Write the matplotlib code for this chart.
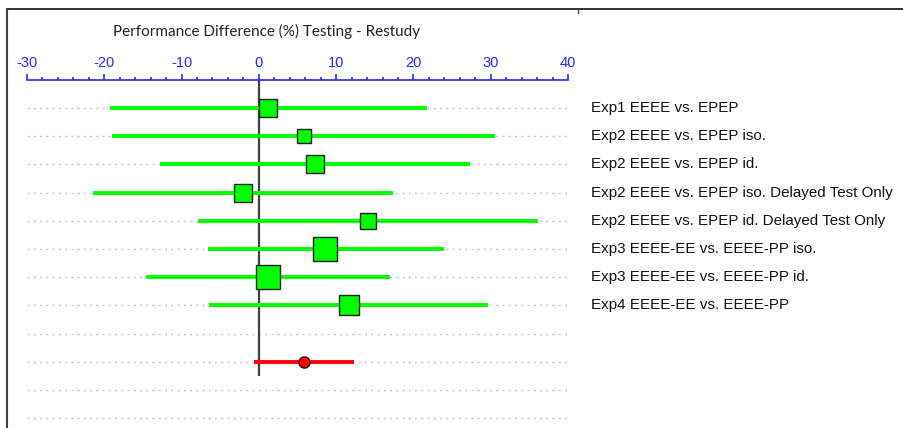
import matplotlib
matplotlib.use("Agg")
import matplotlib.pyplot as plt
from matplotlib.lines import Line2D
from matplotlib.ticker import MultipleLocator

plt.rcParams["axes.unicode_minus"] = False
plt.rcParams["font.family"] = ["Liberation Sans", "DejaVu Sans"]

# ---- data ----
studies = [
    "Exp1 EEEE vs. EPEP",
    "Exp2 EEEE vs. EPEP iso.",
    "Exp2 EEEE vs. EPEP id.",
    "Exp2 EEEE vs. EPEP iso. Delayed Test Only",
    "Exp2 EEEE vs. EPEP id. Delayed Test Only",
    "Exp3 EEEE-EE vs. EEEE-PP iso.",
    "Exp3 EEEE-EE vs. EEEE-PP id.",
    "Exp4 EEEE-EE vs. EEEE-PP",
]
effects = [1.2, 5.8, 7.2, -2.0, 14.1, 8.6, 1.2, 11.6]
ci_low = [-19.3, -19.0, -12.8, -21.5, -7.9, -6.6, -14.6, -6.4]
ci_high = [21.8, 30.6, 27.3, 17.4, 36.1, 23.9, 17.0, 29.7]
weights = [18.7, 14.0, 18.3, 18.3, 15.7, 23.2, 23.3, 20.3]  # relative box sizes (px)

summary_effect = 5.8
summary_low = -0.6
summary_high = 12.3

x_ticks = [-30, -20, -10, 0, 10, 20, 30, 40]
n_rows = 12
summary_row = 9

title = "Performance Difference (%) Testing - Restudy"

# ---- figure ----
W, H, DPI = 904, 428, 100
fig = plt.figure(figsize=(W / DPI, H / DPI), dpi=DPI)

x0_px, x1_px = 27, 568
top_px = 80
ax = fig.add_axes([x0_px / W, 0, (x1_px - x0_px) / W, 1 - top_px / H])
row0_px, row_step = 108, 28.2
ax.set_xlim(x_ticks[0], x_ticks[-1])
ax.set_ylim((H - row0_px) / row_step, (top_px - row0_px) / row_step)

for s in ["left", "right", "bottom"]:
    ax.spines[s].set_visible(False)
blue = "#2a2aff"
ax.spines["top"].set_color(blue)
ax.spines["top"].set_linewidth(1.2)
ax.xaxis.tick_top()
ax.set_xticks(x_ticks)
ax.xaxis.set_minor_locator(MultipleLocator(2))
ax.tick_params(axis="x", which="major", direction="out", length=4.5, width=1.2,
               color=blue, labelcolor=blue, labelsize=10.5, pad=3)
ax.tick_params(axis="x", which="minor", direction="out", length=2.5, width=1.2, color=blue)
ax.set_yticks([])

# dotted row guides
for r in range(n_rows):
    ax.plot([x_ticks[0], x_ticks[-1]], [r, r], color="#c4c4c4", lw=1,
            linestyle=(0, (1.5, 3)), zorder=1)

# zero line
ax.plot([0, 0], [ax.get_ylim()[1], summary_row + 0.5], color="#404040", lw=1.6, zorder=2,
        solid_capstyle="butt")

green = "#00ff00"
for i, (e, lo, hi, w) in enumerate(zip(effects, ci_low, ci_high, weights)):
    ax.plot([lo, hi], [i, i], color=green, lw=2.8, zorder=3, solid_capstyle="butt")
    ax.plot([e], [i], marker="s", markersize=w / 1.389, markerfacecolor=green,
            markeredgecolor="#202020", markeredgewidth=1.0, zorder=4)
    ax.text(42.95, i, studies[i], va="center", ha="left", fontsize=10.9,
            color="#111111", clip_on=False)

ax.plot([summary_low, summary_high], [summary_row, summary_row], color="#ff0000", lw=2.8,
        zorder=3, solid_capstyle="butt")
ax.plot([summary_effect], [summary_row], marker="o", markersize=8, markerfacecolor="#ff0000",
        markeredgecolor="#300000", markeredgewidth=1.0, zorder=4)

fig.text(266.5 / W, 1 - 31 / H, title, ha="center", va="center", fontsize=11,
         family="Lato", color="#222222")

# outer frame fragments
fig.add_artist(Line2D([7 / W, 1], [1 - 9 / H, 1 - 9 / H], color="#222222", lw=1.3))
fig.add_artist(Line2D([7 / W, 7 / W], [0, 1 - 9 / H], color="#444444", lw=1.5))
fig.add_artist(Line2D([578 / W, 578 / W], [1 - 9 / H, 1 - 13 / H], color="#444444", lw=1))

fig.savefig("out.png", dpi=DPI)
